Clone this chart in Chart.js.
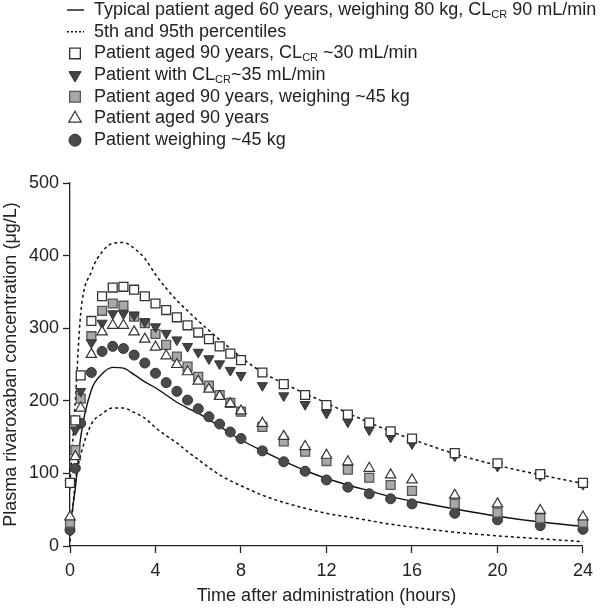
<!DOCTYPE html>
<html>
<head>
<meta charset="utf-8">
<script src="https://cdn.jsdelivr.net/npm/chart.js"></script>
<style>
  body { margin: 0; background: #fff; }
  canvas { display: block; }
</style>
</head>
<body>
<canvas id="pkChart" width="600" height="608"></canvas>
<script>
// sampling times (hours after dose)
const hours = [0, 0.25, 0.5, 1, 1.5, 2, 2.5, 3, 3.5, 4, 4.5, 5, 5.5, 6, 6.5, 7, 7.5, 8, 9, 10, 11, 12, 13, 14, 15, 16, 18, 20, 22, 24];

// model curves (µg/L)
const typical = [27, 80, 150, 215, 237, 246, 245, 236, 226, 218, 208, 198, 190, 183, 174, 165, 155, 146, 131, 117, 104, 93, 84, 76, 68, 62, 51, 41, 33, 27];
const pct95 = [86, 200, 320, 378, 405, 417, 418, 410, 396, 374, 355, 338, 324, 310, 297, 284, 272, 260, 239, 224, 210, 197, 183, 170, 158, 147, 127, 111, 98, 86];
const pct5 = [6, 88, 125, 168, 182, 190, 190, 184, 176, 163, 152, 142, 130, 119, 108, 98, 90, 83, 70, 60, 52, 45, 40, 35, 30, 26, 19, 14, 10, 6];

// simulated patients
const aged90Clcr30 = [87, 173, 235, 310, 344, 356, 357, 353, 344, 334, 325, 315, 304, 294, 285, 275, 265, 256, 239, 223, 208, 194, 181, 170, 158, 148, 128, 114, 99, 87];
const clcr35 = [86, 160, 213, 280, 307, 320, 320, 318, 309, 302, 293, 284, 275, 267, 258, 251, 242, 235, 221, 207, 195, 183, 171, 160, 150, 141, 124, 110, 97, 85];
const aged90Wt45 = [32, 132, 203, 289, 324, 334, 331, 316, 307, 292, 277, 261, 247, 233, 221, 208, 197, 185, 164, 144, 130, 117, 105, 94, 84, 76, 58, 46, 38, 32];
const aged90 = [40, 123, 190, 264, 295, 304, 304, 295, 285, 274, 262, 250, 240, 227, 216, 206, 196, 186, 169, 151, 137, 125, 116, 107, 98, 91, 70, 58, 49, 40];
const wt45 = [22, 107, 169, 239, 268, 275, 272, 263, 252, 238, 225, 213, 201, 189, 178, 168, 157, 148, 131, 116, 103, 91, 81, 72, 65, 58, 45, 36, 28, 23];

const xTicks = [0, 4, 8, 12, 16, 20, 24];
const yTicks = [0, 100, 200, 300, 400, 500];

const FONT = '"Liberation Sans", Arial, Helvetica, sans-serif';
const INK = '#222';

const pts = vals => vals.map((v, i) => ({ x: hours[i], y: v }));

// marker styles shared by plot and legend
const markers = {
  whiteSq: { pointStyle: 'rect', pointRadius: 6.3, pointBackgroundColor: '#fff', pointBorderColor: '#333', pointBorderWidth: 1.3, pointRotation: 0 },
  downTri: { pointStyle: 'triangle', pointRadius: 5.8, pointBackgroundColor: '#444', pointBorderColor: '#333', pointBorderWidth: 1, pointRotation: 180 },
  graySq: { pointStyle: 'rect', pointRadius: 6.3, pointBackgroundColor: '#a8a8a8', pointBorderColor: '#555', pointBorderWidth: 1.3, pointRotation: 0 },
  openTri: { pointStyle: 'triangle', pointRadius: 6, pointBackgroundColor: '#fff', pointBorderColor: '#333', pointBorderWidth: 1.2, pointRotation: 0 },
  dot: { pointStyle: 'circle', pointRadius: 5, pointBackgroundColor: '#4a4a4a', pointBorderColor: '#333', pointBorderWidth: 1, pointRotation: 0 },
};

const scatterSet = (data, m, order) => ({
  data: pts(data), showLine: false, order: order, clip: false,
  pointStyle: m.pointStyle, pointRadius: m.pointRadius, pointHoverRadius: m.pointRadius,
  pointRotation: m.pointRotation,
  backgroundColor: m.pointBackgroundColor, borderColor: m.pointBorderColor, borderWidth: m.pointBorderWidth,
});

const lineSet = (data, dash, order) => ({
  data: pts(data), showLine: true, order: order, pointRadius: 0, clip: false,
  borderColor: '#111', borderWidth: dash ? 1.5 : 1.4, borderDash: dash || [],
  cubicInterpolationMode: 'monotone', fill: false,
});

// legend with subscripts, drawn on the canvas
const legendRows = [
  { mark: 'line', parts: [['Typical patient aged 60 years, weighing 80 kg, CL'], ['CR', 1], [' 90 mL/min']] },
  { mark: 'dots', parts: [['5th and 95th percentiles']] },
  { mark: 'whiteSq', parts: [['Patient aged 90 years, CL'], ['CR', 1], [' ~30 mL/min']] },
  { mark: 'downTri', parts: [['Patient with CL'], ['CR', 1], ['~35 mL/min']] },
  { mark: 'graySq', parts: [['Patient aged 90 years, weighing ~45 kg']] },
  { mark: 'openTri', parts: [['Patient aged 90 years']] },
  { mark: 'dot', parts: [['Patient weighing ~45 kg']] },
];

const legendPlugin = {
  id: 'subLegend',
  afterDraw(chart) {
    const ctx = chart.ctx;
    const mx = 75, tx = 94, y0 = 10, dy = 21.7;
    ctx.save();
    legendRows.forEach((row, i) => {
      const y = y0 + i * dy;
      if (row.mark === 'line' || row.mark === 'dots') {
        ctx.beginPath();
        ctx.strokeStyle = '#111';
        ctx.lineWidth = 1.4;
        ctx.setLineDash(row.mark === 'dots' ? [2, 2] : []);
        ctx.moveTo(67, y);
        ctx.lineTo(84, y);
        ctx.stroke();
        ctx.setLineDash([]);
      } else {
        const m = markers[row.mark];
        ctx.fillStyle = m.pointBackgroundColor;
        ctx.strokeStyle = m.pointBorderColor;
        ctx.lineWidth = m.pointBorderWidth;
        Chart.helpers.drawPoint(ctx, {
          pointStyle: m.pointStyle, radius: m.pointRadius * 1.2,
          rotation: m.pointRotation, borderWidth: m.pointBorderWidth,
        }, mx, y);
      }
      let x = tx;
      ctx.fillStyle = INK;
      ctx.textBaseline = 'middle';
      row.parts.forEach(([txt, sub]) => {
        ctx.font = (sub ? '11px ' : '18px ') + FONT;
        ctx.fillText(txt, x, sub ? y + 5 : y);
        x += ctx.measureText(txt).width;
      });
    });
    ctx.restore();
  },
};

Chart.defaults.font.family = FONT;
Chart.defaults.font.size = 18;
Chart.defaults.color = INK;

const ctx = document.getElementById('pkChart');

new Chart(ctx, {
  type: 'scatter',
  data: {
    datasets: [
      scatterSet(aged90Clcr30, markers.whiteSq, 0),
      scatterSet(aged90, markers.openTri, 1),
      scatterSet(clcr35, markers.downTri, 2),
      scatterSet(aged90Wt45, markers.graySq, 3),
      scatterSet(wt45, markers.dot, 4),
      lineSet(typical, null, 5),
      lineSet(pct95, [3, 3], 6),
      lineSet(pct5, [3, 3], 7),
    ],
  },
  options: {
    responsive: false,
    animation: false,
    events: [],
    layout: { padding: { top: 183, right: 11, left: 0, bottom: 0 } },
    plugins: { legend: { display: false }, tooltip: { enabled: false } },
    scales: {
      x: {
        type: 'linear', min: 0, max: 24,
        afterBuildTicks: s => { s.ticks = xTicks.map(v => ({ value: v })); },
        afterFit: s => { s.height = 62; },
        grid: { drawOnChartArea: false, tickLength: 7, color: INK, tickWidth: 1.3 },
        border: { color: INK, width: 1.3 },
        ticks: { padding: 7, maxRotation: 0, autoSkip: false },
        title: { display: true, text: 'Time after administration (hours)', padding: { top: 0, bottom: 1 } },
      },
      y: {
        min: 0, max: 500,
        afterBuildTicks: s => { s.ticks = yTicks.map(v => ({ value: v })); },
        afterFit: s => { s.width = 70; },
        grid: { drawOnChartArea: false, tickLength: 7, color: INK, tickWidth: 1.3 },
        border: { color: INK, width: 1.3 },
        ticks: { padding: 4 },
        title: { display: true, text: 'Plasma rivaroxaban concentration (μg/L)', padding: { top: 0, bottom: 0 } },
      },
    },
  },
  plugins: [legendPlugin],
});
</script>
</body>
</html>
